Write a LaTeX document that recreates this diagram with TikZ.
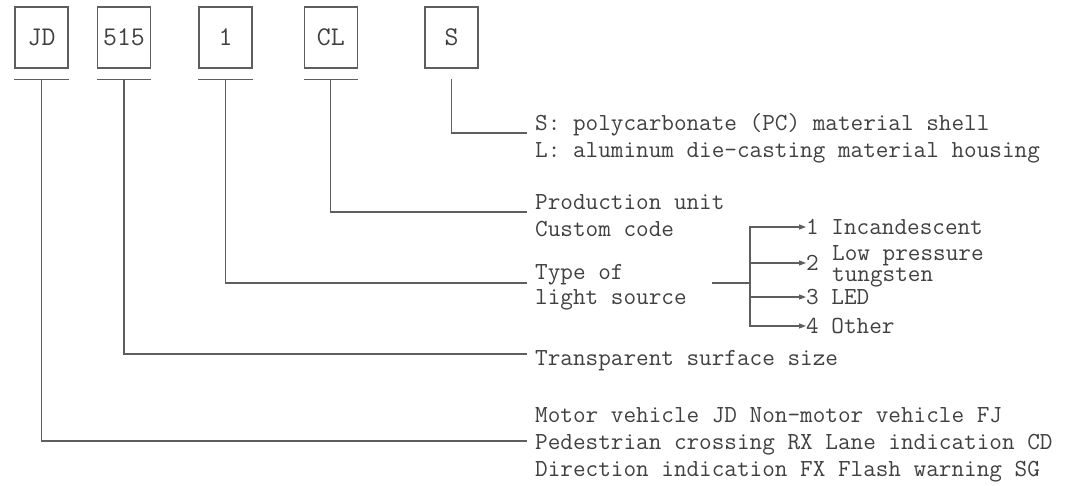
\documentclass[tikz,border=0pt]{standalone}
\usepackage{xcolor}
\usetikzlibrary{arrows.meta}
\definecolor{linegray}{HTML}{5E5E5E}
\definecolor{textgray}{HTML}{404040}
\newcommand\codefont{\fontsize{24.5}{27}\selectfont\ttfamily}
\tikzset{
  codebox/.style={draw=linegray, line width=1.1pt, minimum width=53pt, minimum height=61pt, inner sep=0pt, text=textgray, font=\fontsize{27}{30}\selectfont\ttfamily},
  desc/.style={anchor=base west, inner sep=0pt, text=textgray},
  lead/.style={draw=linegray, line width=1.1pt},
  arr/.style={lead, -{Triangle[length=7pt,width=5pt]}}
}
\begin{document}
\begin{tikzpicture}[x=1pt,y=-1pt,every node/.style={font=\codefont}]
\useasboundingbox (0,0) rectangle (1070,485);
% code boxes
\node[codebox] (jd) at (41.5,37.5) {JD};
\node[codebox] (size) at (124,37.5) {515};
\node[codebox] (src) at (225.5,37.5) {1};
\node[codebox] (unit) at (330.8,37.5) {CL};
\node[codebox] (mat) at (451.5,37.5) {S};
\foreach \b in {jd,size,src,unit}
  \draw[lead] ([shift={(0,10.5)}]\b.south west) -- ([shift={(0,10.5)}]\b.south east);
% descriptions
\node[desc] (shell) at (535,130.5) {S: polycarbonate (PC) material shell};
\node[desc] (housing) at (535,157.5) {L: aluminum die-casting material housing};
\node[desc] (prod) at (535,209.5) {Production unit};
\node[desc] (cust) at (535,236.5) {Custom code};
\node[desc] (type) at (535,279.5) {Type of};
\node[desc] (light) at (535,304) {light source};
\node[desc] (surf) at (535,365.5) {Transparent surface size};
\node[desc] (motor) at (535,422.5) {Motor vehicle JD Non-motor vehicle FJ};
\node[desc] (ped) at (535,449.5) {Pedestrian crossing RX Lane indication CD};
\node[desc] (dir) at (535,476.5) {Direction indication FX Flash warning SG};
\draw[lead] ([shift={(0,10.5)}]mat.south) |- ([shift={(-8,2.5)}]shell.base west);
\draw[lead] ([shift={(0,10.5)}]unit.south) |- ([shift={(-8,2.5)}]prod.base west);
\draw[lead] ([shift={(0,10.5)}]src.south) |- ([shift={(-8,3.5)}]type.base west);
\draw[lead] ([shift={(0,10.5)}]size.south) |- ([shift={(-8,-11.5)}]surf.base west);
\draw[lead] ([shift={(0,10.5)}]jd.south) |- ([shift={(-8,-8.5)}]ped.base west);
% light source types
\coordinate (stub) at (712,283);
\coordinate (fork) at (750,283);
\draw[lead] (stub) -- (fork);
\node[desc] (inc) at (806,234.5) {1 Incandescent};
\node[desc] (two) at (806,270.5) {2};
\node[desc] (low) at (832,260) {Low pressure};
\node[desc] (tung) at (832,281.5) {tungsten};
\node[desc] (led) at (806,304.5) {3 LED};
\node[desc] (oth) at (806,333.5) {4 Other};
\foreach \t in {inc,two,led,oth}
  \draw[arr] (fork) |- ([shift={(0,-7.5)}]\t.base west);
\end{tikzpicture}
\end{document}
